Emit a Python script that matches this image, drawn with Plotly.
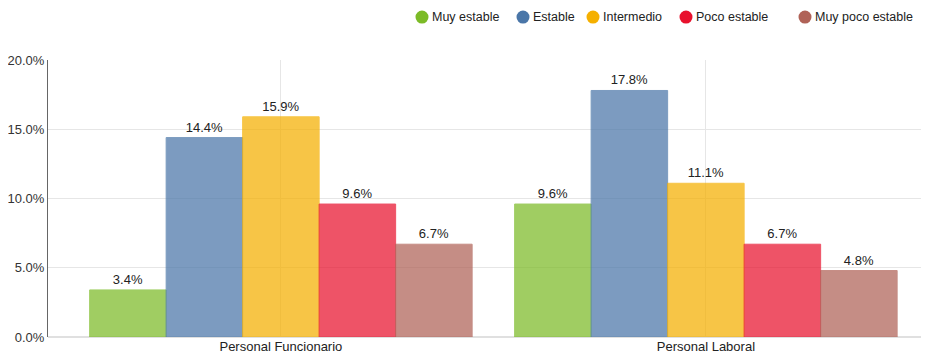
import plotly.graph_objects as go

groups = ["Personal Funcionario", "Personal Laboral"]
series = ["Muy estable", "Estable", "Intermedio", "Poco estable", "Muy poco estable"]
muy_estable = [3.4, 9.6]
estable = [14.4, 17.8]
intermedio = [15.9, 11.1]
poco_estable = [9.6, 6.7]
muy_poco_estable = [6.7, 4.8]
y_ticks = [0, 5, 10, 15, 20]

COLORS = ["#7cbb27", "#4a76a8", "#f5b000", "#e8112d", "#b06257"]
values = [muy_estable, estable, intermedio, poco_estable, muy_poco_estable]

fig = go.Figure()
for name, vals, col in zip(series, values, COLORS):
    fig.add_trace(go.Bar(
        x=groups, y=vals, name=name, showlegend=False,
        marker=dict(color=col, opacity=0.72, line=dict(color=col, width=1)),
        text=[f"{v:.1f}%" for v in vals], textposition="outside",
        textfont=dict(size=13, color="#222"), cliponaxis=False,
    ))

# legend drawn by hand: coloured dot + label, top right
PLOT_L, PLOT_W = 48, 881
dot_centers_px = [422, 523, 593, 686, 805]
legend_y = 1.155
for name, col, px in zip(series, COLORS, dot_centers_px):
    xp = (px - PLOT_L) / PLOT_W
    fig.add_shape(type="circle", xref="paper", yref="paper",
                  xsizemode="pixel", ysizemode="pixel", xanchor=xp, yanchor=legend_y,
                  x0=-6.5, x1=6.5, y0=-6.5, y1=6.5,
                  fillcolor=col, line=dict(width=0))
    fig.add_annotation(
        x=xp + 8 / PLOT_W, y=legend_y, xref="paper", yref="paper",
        xanchor="left", yanchor="middle", showarrow=False, text=name,
        font=dict(size=12.5, color="#222"),
    )

# page body has an 8px margin, so the figure is shrunk by that much
fig.update_layout(
    width=921, height=349, showlegend=False,
    barmode="group", bargap=0.1, bargroupgap=0,
    paper_bgcolor="white", plot_bgcolor="white",
    font=dict(family="Liberation Sans, Arial", size=13, color="#333"),
    margin=dict(l=40, r=0, t=52, b=20),
)
fig.update_xaxes(range=[-0.548, 1.525], showgrid=True, gridcolor="#e6e6e6",
                 ticks="", tickfont=dict(size=13, color="#222"))
fig.update_yaxes(range=[0, 20], tickvals=y_ticks, ticktext=[f"{t:.1f}%" for t in y_ticks],
                 showgrid=True, gridcolor="#e6e6e6", zeroline=True, zerolinecolor="#e0e0e0",
                 showline=True, linecolor="#666", linewidth=1,
                 tickfont=dict(size=13, color="#333"))

fig.write_html("out.html")
